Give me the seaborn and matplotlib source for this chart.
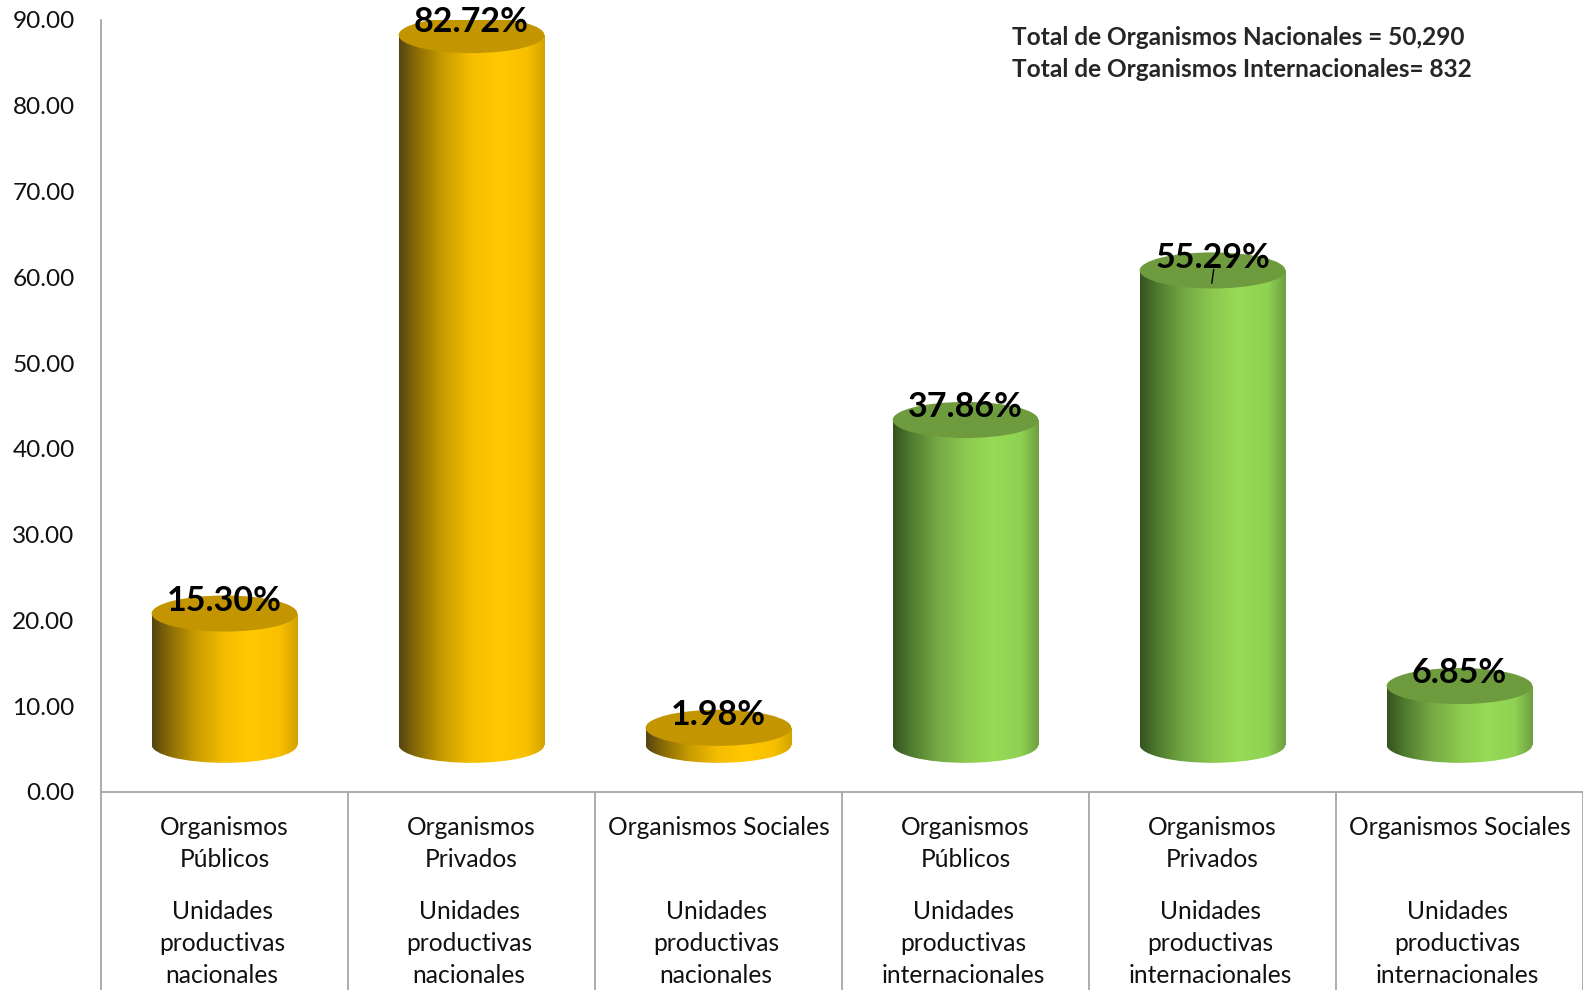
import matplotlib
matplotlib.use("Agg")
import matplotlib.pyplot as plt
import matplotlib.transforms as mtransforms
from matplotlib.colors import LinearSegmentedColormap
from matplotlib.patches import Ellipse
import seaborn as sns
import numpy as np
import pandas as pd

# datos del grafico
tipos = ["Organismos\nPúblicos", "Organismos\nPrivados", "Organismos Sociales",
         "Organismos\nPúblicos", "Organismos\nPrivados", "Organismos Sociales"]
grupos = ["Unidades\nproductivas\nnacionales"] * 3 + ["Unidades\nproductivas\ninternacionales"] * 3
porcentajes = [15.30, 82.72, 1.98, 37.86, 55.29, 6.85]
origen = ["nacional"] * 3 + ["internacional"] * 3
totales = ["Total de Organismos Nacionales = 50,290",
           "Total de Organismos Internacionales= 832"]

df = pd.DataFrame({
    "clave": [f"{t} / {g} / {i}" for i, (t, g) in enumerate(zip(tipos, grupos))],
    "porcentaje": porcentajes,
    "origen": origen,
})

# estilo tipo cilindro 3D de Excel
PISO = 5.5      # altura del "suelo" 3D
ELIPSE = 4.2    # alto de las tapas elipticas
ANCHO = 0.59
GRIS = "#A6A6A6"

degradados = {
    "nacional": LinearSegmentedColormap.from_list("oro", [
        (0.0, "#554510"), (0.12, "#8A6C05"), (0.3, "#C99C00"), (0.5, "#F5BE00"),
        (0.68, "#FFC800"), (0.88, "#F8C000"), (1.0, "#D4A300")]),
    "internacional": LinearSegmentedColormap.from_list("verde", [
        (0.0, "#36531F"), (0.12, "#4F7A2E"), (0.3, "#74A843"), (0.5, "#8CC950"),
        (0.68, "#98DB56"), (0.88, "#8FD152"), (1.0, "#6E9F40")]),
}
tapas = {"nacional": "#C39500", "internacional": "#6D9B3E"}
base = {"nacional": "#FFC000", "internacional": "#92D050"}

sns.set_style("white")
plt.rcParams["font.family"] = ["Lato", "DejaVu Sans"]

fig = plt.figure(figsize=(15.83, 9.9), dpi=100)
ax = fig.add_axes([0.0638, 0.2, 0.9362, 0.78])

sns.barplot(data=df, x="clave", y="porcentaje", hue="origen", palette=base,
            width=ANCHO, bottom=PISO, dodge=False, legend=False, saturation=1,
            linewidth=0, ax=ax)

grad = np.linspace(0, 1, 256).reshape(1, -1)
for p in list(ax.patches):
    xc = p.get_x() + p.get_width() / 2
    i = int(round(xc))
    cmap = degradados[origen[i]]
    x0, x1 = p.get_x(), p.get_x() + p.get_width()
    top = p.get_y() + p.get_height()

    # cuerpo del cilindro
    im = ax.imshow(grad, cmap=cmap, aspect="auto", extent=(x0, x1, PISO, top),
                   zorder=2, interpolation="bilinear")
    im.set_clip_path(p)

    # base eliptica
    el = Ellipse((xc, PISO), p.get_width(), ELIPSE, facecolor="none",
                 edgecolor="none")
    ax.add_patch(el)
    im2 = ax.imshow(grad, cmap=cmap, aspect="auto",
                    extent=(x0, x1, PISO - ELIPSE / 2, PISO + ELIPSE / 2),
                    zorder=1.9, interpolation="bilinear")
    im2.set_clip_path(el)

    # tapa superior
    ax.add_patch(Ellipse((xc, top), p.get_width(), ELIPSE,
                         facecolor=tapas[origen[i]], edgecolor="none", zorder=3))

    ax.text(xc, top + 1.5, f"{porcentajes[i]:.2f}%", ha="center", va="center",
            fontsize=24.5, fontweight="bold", color="black", zorder=5)
    if i == 4:
        # pequena linea guia de la etiqueta, como en el original
        ax.plot([xc + 0.005, xc - 0.003], [top + 0.1, top - 1.5], color="black",
                lw=1, zorder=4)

ax.set_xlim(-0.5, 5.5)
ax.set_ylim(0, 90)
ax.set_yticks(np.arange(0, 91, 10))
ax.set_yticklabels([f"{v:.2f}" for v in np.arange(0, 91, 10)])
ax.set_xlabel("")
ax.set_ylabel("")

ax.set_xticks(range(len(tipos)))
ax.set_xticklabels(tipos, fontsize=17.7, linespacing=1.52, color="#111111")
ax.tick_params(axis="x", length=0, pad=17)
ax.tick_params(axis="y", direction="out", length=8, width=1.3, color=GRIS,
               labelsize=17.6, pad=11, labelcolor="#111111")

for s in ["top", "right"]:
    ax.spines[s].set_visible(False)
for s in ["left", "bottom"]:
    ax.spines[s].set_color(GRIS)
    ax.spines[s].set_linewidth(1.3)

# segundo nivel de categorias y separadores
trans = mtransforms.blended_transform_factory(ax.transData, ax.transAxes)
for i, g in enumerate(grupos):
    ax.text(i - 0.01, -0.14, g, transform=trans, ha="center", va="top",
            fontsize=17.7, linespacing=1.48, color="#111111")
for b in np.arange(-0.5, len(tipos), 1):
    ax.plot([b, b], [0, -0.27], transform=trans, color=GRIS, lw=1.3,
            clip_on=False)

ax.text(0.615, 0.9566, "\n".join(totales), transform=ax.transAxes, ha="left",
        va="center", fontsize=17.6, fontweight="bold", linespacing=1.45)

fig.savefig("out.png", dpi=100)
